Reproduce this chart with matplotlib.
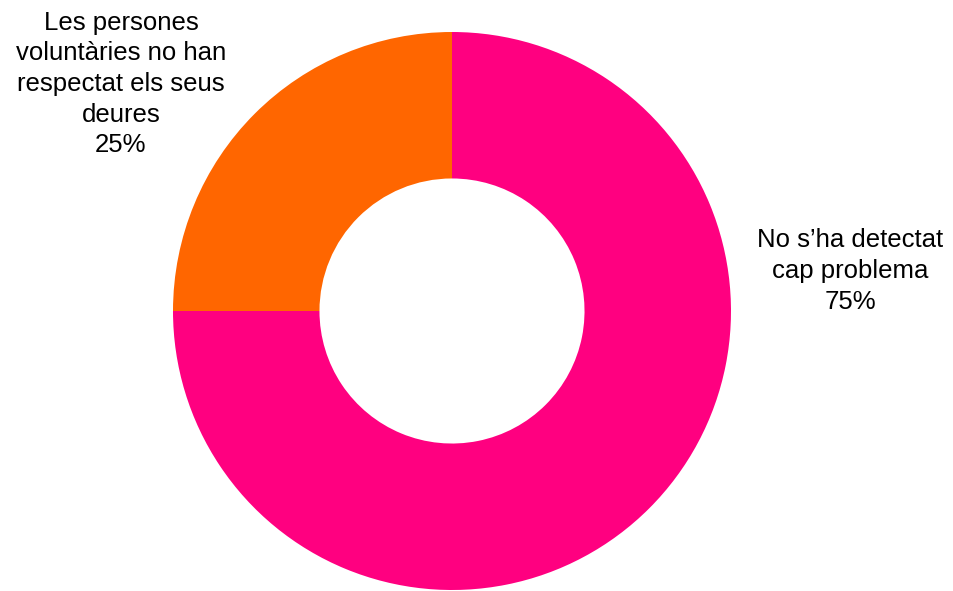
import matplotlib
matplotlib.use("Agg")
import matplotlib.pyplot as plt

# dades del gràfic
categories = ["No s\u2019ha detectat\ncap problema", "Les persones\nvolunt\u00e0ries no han\nrespectat els seus\ndeures"]
values = [75, 25]
colors = ["#FF0080", "#FF6600"]

plt.rcParams['font.family'] = ['Liberation Sans', 'DejaVu Sans']

W, H = 954, 591
fig = plt.figure(figsize=(W / 100, H / 100), dpi=100)

# centre i radi del donut en píxels
cx, cy, r = 452, 311, 279
ax = fig.add_axes([(cx - r) / W, (H - cy - r) / H, 2 * r / W, 2 * r / H])
ax.pie(values, colors=colors, startangle=90, counterclock=False, radius=1,
       wedgeprops=dict(width=0.525, edgecolor='none'))
ax.set_xlim(-1, 1)
ax.set_ylim(-1, 1)
ax.set_aspect('equal')
ax.axis('off')

# etiquetes
label_pos = [(850, 271), (121, 84)]
for cat, val, (px, py) in zip(categories, values, label_pos):
    fig.text(px / W, 1 - py / H, "%s\n%d%%" % (cat, val), ha='center', va='center',
             fontsize=18.5, linespacing=1.35, color='black')

fig.savefig("out.png", dpi=100)
